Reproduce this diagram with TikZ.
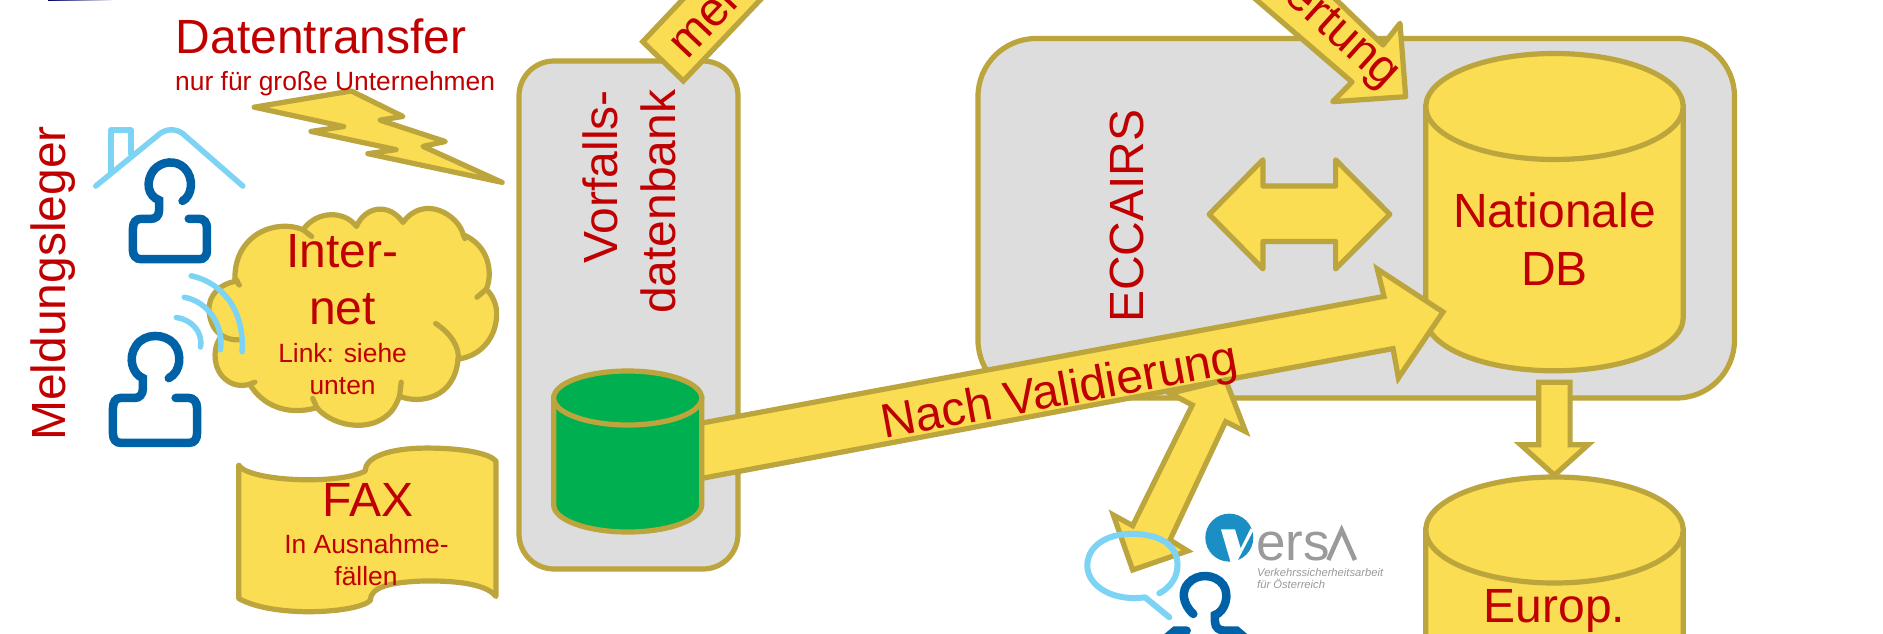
\documentclass[tikz,border=0pt]{standalone}
\usepackage{fontspec}
\setmainfont{Liberation Sans}
\definecolor{tred}{HTML}{C00000}
\definecolor{yel}{HTML}{FADD52}
\definecolor{edge}{HTML}{BBA53C}
\definecolor{boxgrey}{HTML}{DDDDDD}
\definecolor{dbgreen}{HTML}{00B050}
\definecolor{pblue}{HTML}{0062A6}
\definecolor{lblue}{HTML}{7DD3F3}
\definecolor{vgrey}{HTML}{9A9A9A}
\definecolor{vblue}{HTML}{1B8FC4}
\tikzset{
  zA/.style={x=.3444pt,y=-.4044pt},
  zB/.style={shift={(500,0)},x=.4464pt,y=-.4044pt},
  zC/.style={shift={(1180,0)},x=.4484pt,y=-.4044pt},
  zD/.style={shift={(1060,360)},x=.3333pt,y=-.3333pt},
  shp/.style={draw=edge,line width=5.2pt,fill=yel,miter limit=6},
  rshp/.style={shp,line join=round},
  panel/.style={draw=edge,line width=5.2pt,fill=boxgrey},
  stub/.style={draw=edge,line width=5.2pt,line cap=round},
  person/.style={draw=pblue,line width=8.5pt,line cap=round},
  sky/.style={draw=lblue,line width=5.5pt,line cap=round,line join=round},
  big/.style={font=\fontsize{48}{50}\selectfont,text=tred,inner sep=0pt},
  small/.style={font=\fontsize{26.4}{28}\selectfont,text=tred,inner sep=0pt},
}
\newcommand{\dbcyl}[6]{%
  \draw[shp,fill=#6] ({#1-#4},#2) -- ({#1-#4},#3)
    arc[start angle=180,end angle=360,x radius=#4 pt,y radius=#5 pt] -- ({#1+#4},#2) -- cycle;
  \draw[shp,fill=#6] (#1,#2) ellipse[x radius=#4 pt,y radius=#5 pt];
}
\begin{document}
\begin{tikzpicture}[x=1pt,y=-1pt]
\useasboundingbox (0,0) rectangle (1883,634);
\clip (0,0) rectangle (1883,634);
\fill[white] (0,0) rectangle (1883,634);
\shade[left color=blue!40!black,right color=white] (48,0) rectangle (114,1);

% panels
\draw[panel,rounded corners=35pt] (519,61) rectangle (738,569);
\draw[panel,rounded corners=58pt] (978,38.5) rectangle (1734.5,398);

% databases
\dbcyl{1554.5}{106.5}{317.8}{128.7}{53}{yel}
\dbcyl{1554.5}{530}{700}{128.7}{53}{yel}

% main arrow
\draw[shp] (700,423.4) -- (1384,296.4) -- (1377.3,269) -- (1443,312) -- (1398.4,378) -- (1393,348.6) -- (700,478.7) -- cycle;
\dbcyl{627.7}{398}{505}{74}{27}{dbgreen}

% double arrow, down arrow
\begin{scope}[zC]
\draw[rshp] (65,530) -- (185,395) -- (185,460) -- (347,460) -- (347,395) -- (468,530) -- (347,665) -- (347,597) -- (185,597) -- (185,665) -- cycle;
\draw[shp] (800,945) -- (870,945) -- (870,1100) -- (910,1100) -- (835,1175) -- (760,1100) -- (800,1100) -- cycle;
\end{scope}

% top arrows
\draw[shp] (722,-42) -- (642.7,41.7) -- (683.3,81) -- (800,-42);
\draw[rshp] (1210,-40) -- (1352,82) -- (1332.7,101.7) -- (1405.7,96.7) -- (1400,23.3) -- (1383,45) -- (1295,-40);

% validation arrow
\begin{scope}[zD]
\draw[shp] (497,60) -- (557,215) -- (497,185) -- (330,540) -- (383,573) -- (218,630) -- (160,465) -- (218,497) -- (397,135) -- (330,100) -- cycle;
\draw[sky,line width=6pt] (298,700) .. controls (345,675) and (365,625) .. (345,580)
  .. controls (325,535) and (265,520) .. (205,522)
  .. controls (130,525) and (80,565) .. (82,620)
  .. controls (85,680) and (160,725) .. (255,712) -- (328,772);
\draw[person] (400,762) .. controls (365,730) and (365,690) .. (385,670)
  .. controls (410,640) and (465,640) .. (490,675)
  .. controls (510,705) and (495,755) .. (465,765) -- (465,785)
  .. controls (465,805) and (480,812) .. (495,812) -- (530,812) -- (575,850);
\draw[person] (380,812) -- (345,812) -- (300,850);
\fill[vblue] (508,533) circle[radius=72];
\fill[white] (483,508) -- (525,508) -- (542,565) -- (572,505) -- (580,512) -- (530,607) -- (512,607) -- cycle;
\draw[vgrey,line width=4.5pt] (805,600) -- (845,510) -- (885,600);
\end{scope}
\node[font=\fontsize{53}{53}\selectfont,text=vgrey,anchor=base west,inner sep=0pt] (versaname) at (1256,560) {ers};
\node[font=\fontsize{11.2}{12}\selectfont\itshape,text=vgrey,anchor=base west,inner sep=0pt] (versa1) at (1257,576) {Verkehrssicherheitsarbeit};
\node[font=\fontsize{11.2}{12}\selectfont\itshape,text=vgrey,anchor=base west,inner sep=0pt] (versa2) at (1257,588.5) {für Österreich};

% left side
\begin{scope}[zA]
\draw[rshp] (738,265) -- (1020,225) -- (1170,288) -- (1103,297) -- (1293,350) -- (1228,362) -- (1458,451) -- (1068,380) -- (1150,370) -- (903,325) -- (998,313) -- cycle;
\draw[sky] (322,425) -- (322,322) -- (380,322) -- (380,380);
\draw[sky] (278,460) -- (465,330) .. controls (485,318) and (510,318) .. (530,330) -- (705,460);
\draw[person] (530,497) .. controls (558,485) and (565,440) .. (535,415) .. controls (510,395) and (470,398) .. (447,420) .. controls (420,450) and (430,485) .. (462,495) -- (462,520) .. controls (462,535) and (450,541) .. (440,541) -- (410,541) .. controls (395,541) and (386,550) .. (386,565) -- (386,620) .. controls (386,632) and (395,641) .. (410,641) -- (580,641) .. controls (592,641) and (601,632) .. (601,620) -- (601,565) .. controls (601,550) and (592,541) .. (578,541) -- (548,541);
\draw[person] (490,935) .. controls (525,920) and (530,875) .. (505,850) .. controls (480,825) and (420,822) .. (395,855) .. controls (370,885) and (385,925) .. (415,935) -- (415,960) .. controls (415,975) and (405,984) .. (392,984) -- (350,984) .. controls (335,984) and (328,995) .. (328,1010) -- (328,1072) .. controls (328,1087) and (337,1095) .. (350,1095) -- (550,1095) .. controls (565,1095) and (572,1085) .. (572,1072) -- (572,1008) .. controls (572,994) and (562,984) .. (548,984) -- (510,984);
% cloud
\draw[rshp] (690,695) .. controls (640,700) and (603,730) .. (607,770)
 .. controls (610,800) and (625,820) .. (645,830)
 .. controls (620,850) and (615,900) .. (645,930)
 .. controls (665,950) and (695,958) .. (725,950)
 .. controls (760,1000) and (830,1030) .. (920,1008)
 .. controls (960,1050) and (1060,1070) .. (1120,1030)
 .. controls (1145,1015) and (1155,990) .. (1160,980)
 .. controls (1220,1000) and (1320,985) .. (1330,888)
 .. controls (1400,880) and (1445,830) .. (1442,770)
 .. controls (1440,750) and (1430,730) .. (1412,715)
 .. controls (1430,680) and (1425,610) .. (1345,580)
 .. controls (1330,530) and (1230,480) .. (1170,550)
 .. controls (1130,500) and (1060,510) .. (1035,560)
 .. controls (1000,520) and (920,520) .. (880,568)
 .. controls (800,540) and (680,580) .. (682,690) -- cycle;
\draw[stub] (645,830) .. controls (660,838) and (680,842) .. (695,840);
\draw[stub] (880,568) -- (905,585);
\draw[stub] (1345,580) -- (1350,590);
\draw[stub] (1412,715) -- (1385,735);
\draw[stub] (1265,800) .. controls (1310,825) and (1335,860) .. (1330,888);
\draw[stub] (1160,980) -- (1165,945);
\draw[stub] (920,1008) -- (908,985);
\draw[stub] (725,950) -- (740,945);
\draw[stub] (682,690) -- (695,705);
\draw[sky] (555,682) .. controls (650,700) and (710,770) .. (703,870);
\draw[sky] (535,735) .. controls (600,745) and (650,800) .. (640,865);
\draw[sky] (512,785) .. controls (555,790) and (590,820) .. (582,858);
% fax
\draw[rshp] (693,1150) .. controls (720,1190) and (980,1200) .. (1060,1165)
 .. controls (1060,1130) and (1130,1108) .. (1240,1108)
 .. controls (1340,1108) and (1420,1120) .. (1440,1140) -- (1440,1475)
 .. controls (1410,1440) and (1300,1435) .. (1220,1437)
 .. controls (1140,1440) and (1075,1450) .. (1075,1485)
 .. controls (1040,1515) and (800,1530) .. (693,1480) -- cycle;
\end{scope}

% texts
\node[big,anchor=base west] (datentransfer) at (175.5,54) {Datentransfer};
\node[small,anchor=base west] (nurfuer) at (175,90) {nur für große Unternehmen};
\node[big,rotate=90,anchor=base west] (meldungsleger) at (65.4,441) {Meldungsleger};
\node[big,anchor=base] (inter) at (342.6,267) {Inter-};
\node[big,anchor=base] (net) at (342.6,324.7) {net};
\node[small,anchor=base] (link) at (342.6,362) {Link: siehe};
\node[small,anchor=base] (unten) at (342.6,394) {unten};
\node[big,anchor=base] (fax) at (367.8,516) {FAX};
\node[small,anchor=base] (ausnahme) at (366.5,553) {In Ausnahme-};
\node[small,anchor=base] (faellen) at (366,585) {fällen};
\node[big,rotate=90,anchor=base west] (vorfalls) at (617.4,263.6) {Vorfalls-};
\node[big,rotate=90,anchor=base west] (datenbank) at (675.4,314) {datenbank};
\node[big,rotate=90,anchor=base west] (eccairs) at (1143.7,323) {ECCAIRS};
\node[big,anchor=base] (nationale) at (1554.4,227.6) {Nationale};
\node[big,anchor=base] (db) at (1554.4,285) {DB};
\node[big,anchor=base] (europ) at (1554.4,622) {Europ.};
\node[big,rotate=10.5,anchor=base west] (validierung) at (884,439) {Nach Validierung};
\node[big,rotate=46.6,anchor=base west] (melden) at (687,61) {mel};
\node[big,rotate=-42,anchor=base east] (bewertung) at (1384,90) {wertung};
\end{tikzpicture}
\end{document}
